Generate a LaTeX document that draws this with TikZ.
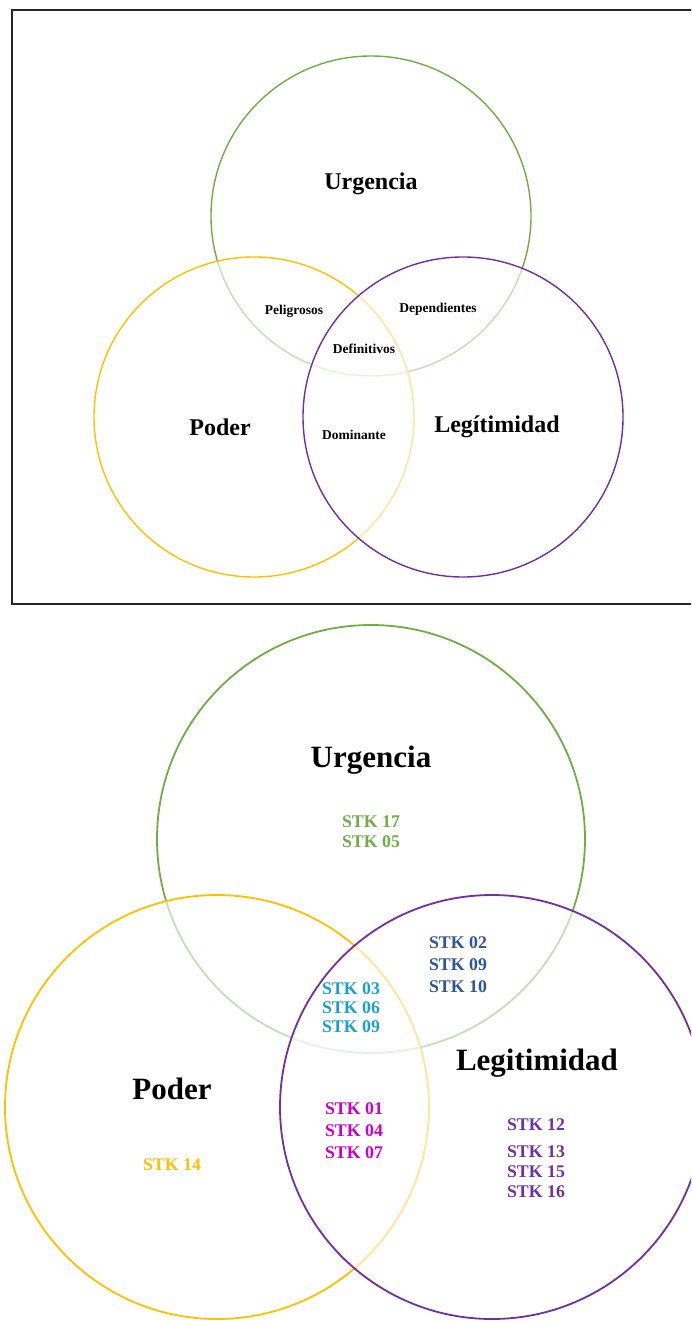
\documentclass[tikz,border=0pt]{standalone}
\usepackage{fontspec}
\setmainfont{Liberation Serif}
\definecolor{urg}{HTML}{70AD47}
\definecolor{pod}{HTML}{FFC000}
\definecolor{leg}{HTML}{7030A0}
\definecolor{cyanstk}{HTML}{1A9FD0}
\definecolor{bluestk}{HTML}{2F5597}
\definecolor{magstk}{HTML}{C800C8}
\begin{document}
\begin{tikzpicture}[x=1pt,y=-1pt,
  set/.style={line width=1.4pt,fill=white,fill opacity=0.6},
  title/.style={font=\bfseries\fontsize{24}{28}\selectfont},
  bigtitle/.style={font=\bfseries\fontsize{31}{36}\selectfont},
  zone/.style={font=\bfseries\fontsize{13.5}{16}\selectfont},
  stk/.style={font=\bfseries\fontsize{17.8}{#1}\selectfont,align=center},
  stk/.default=20]
\useasboundingbox (0,0) rectangle (691,1321);
\clip (0,0) rectangle (691,1321);
\fill[white] (0,0) rectangle (691,1321);

% upper figure
\draw[line width=1.4pt,black!85] (12,10) rectangle (700,604);
\draw[urg,set] (371,216) circle[radius=160pt];
\draw[pod,set] (254,417) circle[radius=160pt];
\draw[leg,set] (463,417) circle[radius=160pt];

\node[title] (u1) at (371,184) {Urgencia};
\node[title] (p1) at (220,427) {Poder};
\node[title] (l1) at (497,427) {Legítimidad};
\node[zone] (pel) at (294,311) {Peligrosos};
\node[zone] (dep) at (438,309) {Dependientes};
\node[zone] (def) at (364,349) {Definitivos};
\node[zone] (dom) at (354,435) {Dominante};

% lower figure
\draw[urg,set,line width=1.8pt] (371,839) circle[radius=214pt];
\draw[pod,set,line width=1.8pt] (217,1107) circle[radius=212pt];
\draw[leg,set,line width=1.8pt] (492,1107) circle[radius=212pt];

\node[bigtitle] (u2) at (371,760) {Urgencia};
\node[bigtitle] (p2) at (172,1089) {Poder};
\node[bigtitle] (l2) at (537,1063) {Legitimidad};

\node[stk,text=urg] (s17) at (371,832) {STK 17\\STK 05};
\node[stk=22,text=bluestk] (s02) at (458,965) {STK 02\\STK 09\\STK 10};
\node[stk=19,text=cyanstk] (s03) at (351,1008) {STK 03\\STK 06\\STK 09};
\node[stk,text=pod] (s14) at (172,1165) {STK 14};
\node[stk=22,text=magstk] (s01) at (354,1131) {STK 01\\STK 04\\STK 07};
\node[stk,text=leg] (s12) at (536,1125) {STK 12};
\node[stk,text=leg] (s13) at (536,1172) {STK 13\\STK 15\\STK 16};
\end{tikzpicture}
\end{document}
